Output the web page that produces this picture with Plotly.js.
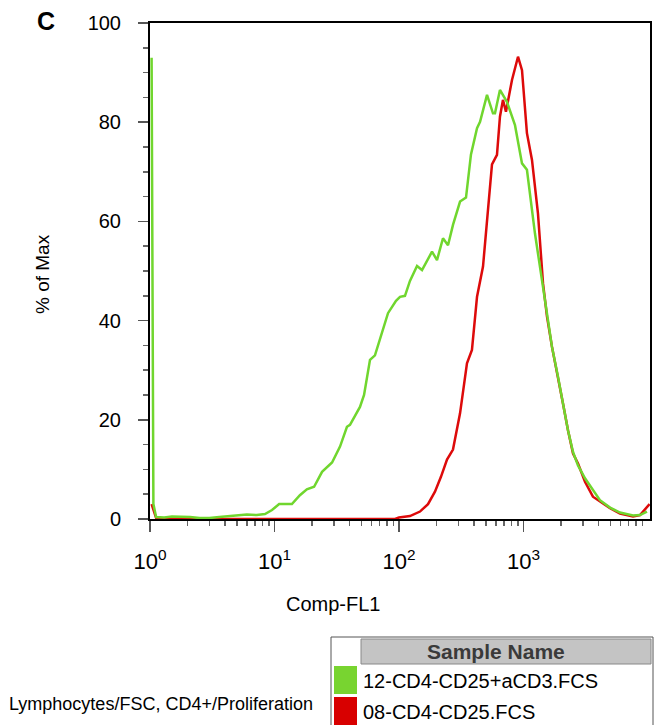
<!DOCTYPE html>
<html>
<head>
<meta charset="utf-8">
<script src="https://cdn.plot.ly/plotly-3.0.1.min.js"></script>
<style>html,body{margin:0;padding:0;background:#fff;}#chart{width:654px;height:725px;}</style>
</head>
<body>
<div id="chart"></div>
<script>
// Comp-FL1 values (linear units) and % of Max for each sample
const greenName = "12-CD4-CD25+aCD3.FCS";
const greenX = [1.03, 1.065, 1.12, 1.3, 1.5, 1.8, 2.1, 2.5, 3.0, 3.6, 4.4, 5.0, 6.0, 7.2, 8.39, 9.55, 10.9, 13.8, 16.0, 18.2, 20.8, 24.1, 29.0, 33.6, 38.2, 40.4, 48.6, 52.4, 58.5, 64.1, 73.0, 81.6, 94.6, 101.9, 111.7, 122.5, 139.6, 153.1, 184.2, 202.0, 225.6, 247.6, 271.5, 309.3, 345.3, 378.6, 423.4, 447.7, 509.3, 568.9, 590.2, 647.1, 736.2, 854.6, 972.9, 1066, 1236, 1435, 1545, 1694, 1893, 2076, 2277, 2500, 2741, 3119, 3614, 4115, 4955, 5957, 7580, 8630, 9817];
const greenY = [93, 3, 0.4, 0.3, 0.5, 0.5, 0.4, 0.2, 0.2, 0.4, 0.6, 0.7, 0.9, 0.8, 1.0, 1.8, 3.0, 3.0, 4.8, 6.0, 6.5, 9.5, 11.4, 14.6, 18.6, 19, 22.6, 25, 32.1, 33, 37.5, 41.5, 44, 44.8, 45, 48, 51, 50.2, 53.9, 52.2, 56.6, 55.2, 59.3, 64, 64.8, 73.5, 78.8, 80.1, 85.5, 81.8, 81.8, 86.5, 84.1, 79.4, 71.7, 70.4, 57.6, 46.8, 40.8, 34.7, 28.7, 23.3, 17.9, 13.5, 10.8, 8.2, 5.8, 3.8, 2.3, 1.3, 0.7, 0.8, 1.5];

const redName = "08-CD4-CD25.FCS";
const redX = [1.03, 1.065, 1.12, 1.2, 10, 50, 92.9, 100, 122.5, 147.5, 171, 194.5, 217.3, 243, 271.5, 309.3, 351.6, 385.5, 423.4, 473, 509.3, 558.5, 612.5, 647.1, 684, 723, 808.5, 903.6, 972.9, 1066, 1170, 1307, 1435, 1545, 1694, 1893, 2076, 2277, 2500, 2741, 3119, 3614, 4115, 4955, 5957, 7580, 8630, 9817, 10300];
const redY = [3, 2, 0.2, 0, 0, 0, 0, 0.3, 0.6, 1.5, 3, 5.5, 8.5, 12, 14, 21.3, 31.4, 34.1, 44.8, 50.9, 60.9, 71.5, 73.4, 81.1, 84.5, 82.1, 88.5, 93.2, 90.5, 77.8, 72.4, 61.6, 47.5, 40.8, 34.7, 28.7, 23.3, 17.9, 13.2, 11.2, 7.5, 4.5, 3.5, 2.2, 1.1, 0.5, 0.8, 2.5, 3];

const xTickVals = [1, 10, 100, 1000];
const xTickText = ["10<sup>0</sup>", "10<sup>1</sup>", "10<sup>2</sup>", "10<sup>3</sup>"];
const xMinorVals = [2,3,4,5,6,7,8,9,20,30,40,50,60,70,80,90,200,300,400,500,600,700,800,900,2000,3000,4000,5000,6000,7000,8000,9000];
const yTickVals = [0, 20, 40, 60, 80, 100];

const GREEN = "#70d62e";
const RED = "#dd0a0a";

// plot area geometry in pixels
const L = 150, R = 650, T = 23, B = 519;
const px = x => (x - L) / (R - L);
const py = y => (B - y) / (B - T);

const FONT = "Liberation Sans, Arial, sans-serif";

const traces = [
  {x: redX, y: redY, name: redName, type: "scatter", mode: "lines",
   line: {color: RED, width: 2.5}},
  {x: greenX, y: greenY, name: greenName, type: "scatter", mode: "lines",
   line: {color: GREEN, width: 2.5}}
];

const shapes = [
  // legend table
  {type: "rect", xref: "paper", yref: "paper", x0: px(331), x1: px(653), y0: py(637), y1: py(726),
   line: {color: "#555", width: 1}, fillcolor: "#fff"},
  {type: "rect", xref: "paper", yref: "paper", x0: px(361), x1: px(651), y0: py(639), y1: py(664),
   line: {color: "#888", width: 1}, fillcolor: "#c4c4c4"},
  {type: "rect", xref: "paper", yref: "paper", x0: px(334), x1: px(357), y0: py(666), y1: py(694),
   line: {width: 0}, fillcolor: "#78d430"},
  {type: "rect", xref: "paper", yref: "paper", x0: px(334), x1: px(357), y0: py(697), y1: py(726),
   line: {width: 0}, fillcolor: "#d80000"}
];

const annotations = [
  {text: "<b>C</b>", xref: "paper", yref: "paper", x: px(35), y: py(21), xanchor: "left", yanchor: "middle",
   showarrow: false, font: {family: FONT, size: 25, color: "#000"}},
  {text: "% of Max", xref: "paper", yref: "paper", x: px(42), y: py(274), textangle: -90,
   xanchor: "center", yanchor: "middle", showarrow: false, font: {family: FONT, size: 19, color: "#000"}},
  {text: "Comp-FL1", xref: "paper", yref: "paper", x: px(333), y: py(604),
   xanchor: "center", yanchor: "middle", showarrow: false, font: {family: FONT, size: 20, color: "#000"}},
  {text: "Lymphocytes/FSC, CD4+/Proliferation", xref: "paper", yref: "paper", x: px(7), y: py(704),
   xanchor: "left", yanchor: "middle", showarrow: false, font: {family: FONT, size: 18, color: "#000"}},
  {text: "<b>Sample Name</b>", xref: "paper", yref: "paper", x: px(496), y: py(651),
   xanchor: "center", yanchor: "middle", showarrow: false, font: {family: FONT, size: 21, color: "#3a3a3a"}},
  {text: greenName, xref: "paper", yref: "paper", x: px(361), y: py(681),
   xanchor: "left", yanchor: "middle", showarrow: false, font: {family: FONT, size: 20, color: "#000"}},
  {text: redName, xref: "paper", yref: "paper", x: px(361), y: py(712),
   xanchor: "left", yanchor: "middle", showarrow: false, font: {family: FONT, size: 20, color: "#000"}}
];

const layout = {
  width: 654, height: 725,
  margin: {l: L, r: 654 - R, t: T, b: 725 - B, pad: 0},
  paper_bgcolor: "#fff", plot_bgcolor: "#fff",
  showlegend: false,
  font: {family: FONT, color: "#000"},
  xaxis: {
    type: "log", range: [0, Math.log10(10380)],
    showline: true, linecolor: "#000", linewidth: 2, mirror: true,
    showgrid: false, zeroline: false,
    ticks: "outside", ticklen: 11, tickwidth: 1.5, tickcolor: "#555",
    tickmode: "array", tickvals: xTickVals, ticktext: xTickText,
    tickfont: {family: FONT, size: 22, color: "#000"}, ticklabelstandoff: 11,
    minor: {tickmode: "array", tickvals: xMinorVals, ticks: "outside", ticklen: 5, tickwidth: 1.5, tickcolor: "#666", showgrid: false}
  },
  yaxis: {
    range: [0, 100],
    showline: true, linecolor: "#000", linewidth: 2, mirror: true,
    showgrid: false, zeroline: false,
    ticks: "outside", ticklen: 10, tickwidth: 1.5, tickcolor: "#555",
    tickmode: "array", tickvals: yTickVals,
    tickfont: {family: FONT, size: 20, color: "#000"}, ticklabelstandoff: 13,
    minor: {dtick: 5, ticks: "outside", ticklen: 5, tickwidth: 1.5, tickcolor: "#666", showgrid: false}
  },
  shapes: shapes,
  annotations: annotations
};

Plotly.newPlot("chart", traces, layout, {staticPlot: true, displayModeBar: false});
</script>
</body>
</html>
